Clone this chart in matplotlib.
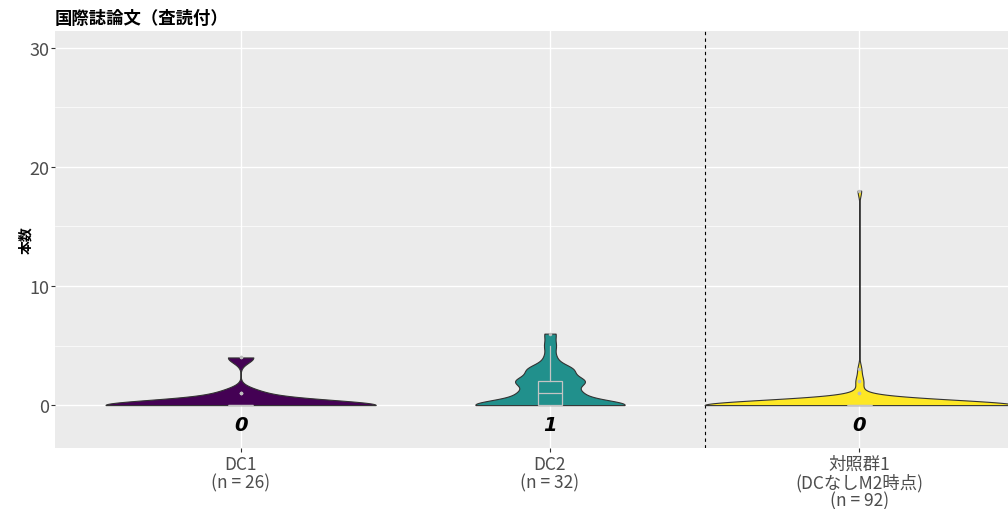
import matplotlib
matplotlib.use("Agg")
import matplotlib.pyplot as plt
import numpy as np

groups = ["DC1\n(n = 26)", "DC2\n(n = 32)", "対照群1\n(DCなしM2時点)\n(n = 92)"]
dc1 = [0]*21 + [1]*3 + [4]*2
dc2 = [0]*14 + [1]*5 + [2]*6 + [3]*4 + [4] + [5] + [6]
ctrl1 = [0]*86 + [1]*2 + [2]*2 + [3] + [18]
series = [dc1, dc2, ctrl1]
colors = ["#440154", "#21908C", "#FDE725"]
title = "国際誌論文（査読付）"
ylabel = "本数"

BW = 0.45  # kernel bandwidth shared by all violins

plt.rcParams['font.family'] = ['Noto Sans CJK JP', 'DejaVu Sans']


def kde(x, grid, bw):
	x = np.asarray(x, float)
	z = (grid[:, None] - x[None, :]) / bw
	return np.exp(-0.5 * z**2).sum(axis=1) / (len(x) * bw * np.sqrt(2*np.pi))


fig = plt.figure(figsize=(10.08, 5.10), dpi=100)
# panel runs past the right edge, like the cropped original
ax = fig.add_axes((55/1008, 61/510, 990/1008, 417/510))
ax.set_facecolor("#EBEBEB")

pos = np.arange(1, len(series) + 1)
dens = []
for s in series:
	g = np.linspace(min(s), max(s), 1024)
	dens.append((g, kde(s, g, BW)))
dmax = max(d.max() for g, d in dens)

# violins scaled by area (same max width for the densest group)
for p, (g, d), c in zip(pos, dens, colors):
	w = 0.5 * d / dmax
	ax.fill_betweenx(g, p - w, p + w, facecolor=c, edgecolor="#333333", linewidth=0.8, zorder=3)

ax.boxplot(series, positions=pos, widths=0.08, showcaps=False, patch_artist=True,
			boxprops=dict(facecolor="none", edgecolor="#C4C4C4", linewidth=0.9),
			whiskerprops=dict(color="#C4C4C4", linewidth=0.9),
			medianprops=dict(color="#C4C4C4", linewidth=0.9),
			flierprops=dict(marker="o", markersize=2.5, markerfacecolor="#BDBDBD",
							markeredgecolor="none"),
			manage_ticks=False, zorder=4)

for p, s in zip(pos, series):
	ax.text(p, -1.6, "%g" % np.median(s), ha="center", va="center", fontsize=14,
			fontweight="bold", fontstyle="italic", family=["DejaVu Sans"], zorder=5)

ax.axvline(2.5, color="black", linestyle=(0, (3, 3)), linewidth=0.8, zorder=2)

ax.set_xlim(0.4, 3.6)
ax.set_ylim(-3.6, 31.4)
ax.set_yticks([0, 10, 20, 30])
ax.set_yticks([5, 15, 25], minor=True)
ax.set_xticks(pos)
ax.set_xticklabels(groups, fontsize=12.5, color="#4D4D4D", linespacing=1.0)
ax.tick_params(axis="y", labelsize=13, labelcolor="#4D4D4D", color="#333333", length=3, pad=1)
ax.tick_params(axis="x", color="#333333", length=3, pad=2)
ax.tick_params(which="minor", length=0)
ax.grid(True, which="major", color="white", linewidth=1.0, zorder=0)
ax.grid(True, which="minor", axis="y", color="white", linewidth=0.5, zorder=0)
ax.set_axisbelow(True)
for sp in ax.spines.values():
	sp.set_visible(False)

ax.set_ylabel(ylabel, fontsize=10, fontweight="bold", labelpad=-3)
fig.text(55/1008, 1 - 19/510, title, fontsize=12.5, fontweight="bold", ha="left", va="center")

fig.savefig("out.png", dpi=100)
